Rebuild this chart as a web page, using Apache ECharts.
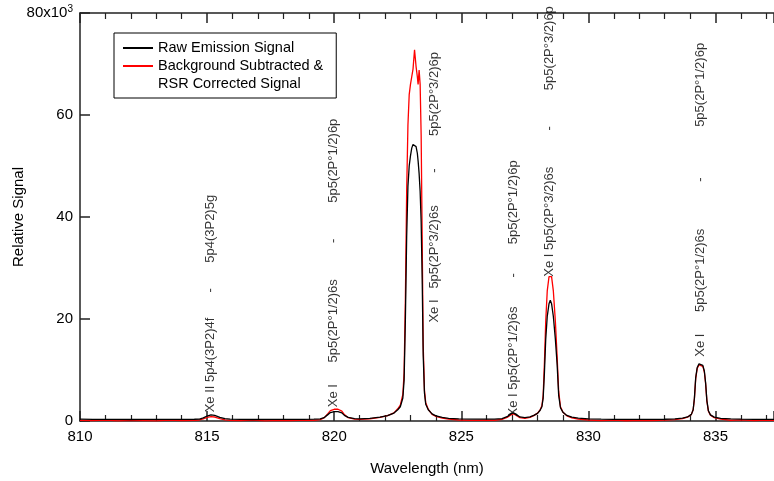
<!DOCTYPE html>
<html>
<head>
<meta charset="utf-8">
<title>Xe emission spectrum</title>
<script src="https://cdn.jsdelivr.net/npm/echarts@6/dist/echarts.min.js"></script>
<style>
  html, body { margin: 0; padding: 0; background: #fff; }
  #chart { width: 774px; height: 481px; }
</style>
</head>
<body>
<div id="chart"></div>
<script>
// Wavelength samples (nm), denser across the emission lines
const wavelength = [
  810.0, 810.5, 811.0, 811.5, 812.0, 812.5, 813.0, 813.5, 814.0, 814.5,
  814.7, 814.85, 815.0, 815.15, 815.3, 815.5, 815.7, 815.9,
  816.3, 816.8, 817.3, 817.8, 818.3, 818.8, 819.2, 819.45,
  819.6, 819.75, 819.85, 820.0, 820.15, 820.3, 820.4, 820.55, 820.8,
  821.0, 821.4, 821.8, 822.1, 822.35, 822.5, 822.6, 822.7, 822.75, 822.8,
  822.85, 822.9, 822.95, 823.0, 823.05, 823.1, 823.16, 823.22, 823.27, 823.3,
  823.34, 823.38, 823.42, 823.46, 823.5, 823.55, 823.6, 823.7, 823.85, 824.0,
  824.25, 824.5, 824.9, 825.4, 825.9, 826.3, 826.6, 826.8, 826.95, 827.05,
  827.15, 827.3, 827.5, 827.7, 827.85, 828.0, 828.1, 828.17, 828.22, 828.27,
  828.32, 828.38, 828.45, 828.5, 828.55, 828.62, 828.7, 828.77, 828.83, 828.9,
  829.0, 829.15, 829.35, 829.6, 830.0, 830.5, 831.0, 831.5, 832.0, 832.5,
  833.0, 833.4, 833.7, 833.9, 834.05, 834.12, 834.17, 834.22, 834.28, 834.35,
  834.42, 834.5, 834.56, 834.61, 834.66, 834.72, 834.8, 834.95, 835.2, 835.6,
  836.0, 836.5, 837.0, 837.5
];

// Raw emission signal (counts)
const rawSignal = [
  350, 320, 300, 310, 290, 300, 310, 300, 320, 340,
  380, 600, 980, 1200, 1100, 700, 450, 350,
  300, 290, 300, 300, 310, 320, 350, 420,
  650, 1250, 1650, 1850, 1850, 1600, 1100, 700, 480,
  430, 520, 750, 1050, 1550, 2200, 2800, 4500, 8000, 20000,
  36000, 46000, 50000, 52000, 53500, 54200, 54500, 53800, 52500, 51000,
  48500, 45000, 39000, 28000, 13000, 5500, 3300, 2200, 1400, 1000,
  700, 520, 420, 380, 360, 380, 480, 850, 1400, 1600,
  1350, 800, 650, 800, 1100, 1500, 2100, 2800, 4500, 9500,
  16000, 20500, 23000, 23700, 23000, 20500, 16000, 11000, 5000, 2600,
  1700, 1100, 750, 550, 420, 360, 330, 320, 310, 320,
  340, 400, 550, 800, 1300, 2200, 4500, 8500, 10500, 11200,
  11300, 10900, 9800, 7500, 4000, 2000, 1200, 750, 500, 400,
  350, 330, 320, 310
];

// Background subtracted & RSR corrected signal (counts)
const correctedSignal = [
  120, 60, 180, 40, 150, 90, 30, 170, 80, 150,
  200, 420, 700, 850, 780, 450, 220, 130,
  60, 160, 40, 140, 70, 180, 150, 260,
  600, 1450, 2050, 2300, 2300, 1950, 1250, 650, 350,
  300, 400, 700, 1050, 1600, 2400, 3100, 5200, 9500, 24000,
  45000, 58000, 64000, 66000, 67500, 69000, 72800, 69500, 67500, 66000,
  68800, 66000, 56000, 36000, 15000, 6000, 3600, 2300, 1300, 900,
  550, 350, 200, 120, 180, 150, 300, 700, 1200, 1400,
  1150, 650, 500, 700, 1050, 1550, 2200, 3000, 5000, 11500,
  19500, 25500, 28300, 28100, 28300, 25500, 19500, 12500, 5800, 2800,
  1700, 1000, 600, 350, 200, 90, 160, 50, 140, 70,
  170, 250, 450, 750, 1300, 2200, 4400, 8300, 10300, 11000,
  11100, 10700, 9600, 7300, 3900, 1900, 1150, 650, 350, 150,
  220, 60, 170, 80
];

// Line identifications: position (nm), label foot (counts), text
const lineWavelength = [815.15, 820.0, 823.98, 827.05, 828.5, 834.41];
const lineLabelFoot = [1600, 2600, 19200, 800, 28200, 12500];
const lineLabelText = [
  'Xe II 5p4(3P2)4f       -       5p4(3P2)5g',
  'Xe I      5p5(2P\u00b01/2)6s          -          5p5(2P\u00b01/2)6p',
  'Xe I   5p5(2P\u00b03/2)6s         -         5p5(2P\u00b03/2)6p',
  'Xe I 5p5(2P\u00b01/2)6s        -        5p5(2P\u00b01/2)6p',
  'Xe I 5p5(2P\u00b03/2)6s          -          5p5(2P\u00b03/2)6p',
  'Xe I      5p5(2P\u00b01/2)6s             -              5p5(2P\u00b01/2)6p'
];

const xTicks = [810, 815, 820, 825, 830, 835];
const yTicks = [0, 20000, 40000, 60000, 80000];

const rawName = 'Raw Emission Signal';
const corrName = 'Background Subtracted &\nRSR Corrected Signal';
const FONT = 'Liberation Sans, Arial, sans-serif';

const pairs = (xs, ys) => xs.map((x, i) => [x, ys[i]]);

const chart = echarts.init(document.getElementById('chart'), null, { renderer: 'canvas' });

const axisLineStyle = { color: '#222', width: 1.5 };

chart.setOption({
  animation: false,
  backgroundColor: '#fff',
  textStyle: { fontFamily: FONT },
  grid: { left: 80, right: 0, top: 13, bottom: 60, containLabel: false, outerBoundsMode: 'none' },
  legend: {
    orient: 'vertical',
    left: 114,
    top: 33,
    padding: [6, 13, 5, 8],
    itemGap: -18,
    itemWidth: 30,
    itemHeight: 14,
    borderColor: '#000',
    borderWidth: 1,
    itemStyle: { opacity: 0 },
    textStyle: { fontSize: 14.5, color: '#000', fontFamily: FONT, lineHeight: 18 },
    // the two-line entry gets a blank first line so its icon sits on the first text line
    formatter: name => (name === corrName ? ' \n' + name : name),
    data: [{ name: rawName }, { name: corrName }]
  },
  xAxis: [
    {
      type: 'value',
      min: 810,
      max: 837.3,
      interval: 5,
      name: 'Wavelength (nm)',
      nameLocation: 'middle',
      nameGap: 40,
      nameMoveOverlap: false,
      nameTextStyle: { fontSize: 15, color: '#000', fontFamily: FONT },
      axisLine: { show: true, onZero: false, lineStyle: axisLineStyle },
      axisTick: { show: true, inside: true, length: 10, lineStyle: axisLineStyle },
      minorTick: { show: true, splitNumber: 5, length: 6, lineStyle: { color: '#222', width: 1.2 } },
      axisLabel: {
        fontSize: 15, color: '#000', margin: 8, fontFamily: FONT,
        customValues: xTicks,
        formatter: v => String(v)
      },
      splitLine: { show: false }
    },
    {
      type: 'value',
      position: 'top',
      min: 810,
      max: 837.3,
      interval: 5,
      axisLine: { show: true, onZero: false, lineStyle: axisLineStyle },
      axisTick: { show: true, inside: true, length: 10, lineStyle: axisLineStyle },
      minorTick: { show: true, splitNumber: 5, length: 6, lineStyle: { color: '#222', width: 1.2 } },
      axisLabel: { show: false },
      splitLine: { show: false }
    }
  ],
  yAxis: {
    type: 'value',
    min: 0,
    max: 80000,
    interval: 20000,
    name: 'Relative Signal',
    nameLocation: 'middle',
    nameGap: 54,
    nameMoveOverlap: false,
    nameTextStyle: { fontSize: 15, color: '#000', fontFamily: FONT },
    axisLine: { show: true, onZero: false, lineStyle: axisLineStyle },
    axisTick: { show: true, inside: true, length: 10, lineStyle: axisLineStyle },
    axisLabel: {
      fontSize: 15, color: '#000', margin: 7, fontFamily: FONT,
      formatter: v => (v === yTicks[yTicks.length - 1] ? '{a|' + (v / 1000) + 'x10}{s|3}' : String(v / 1000)),
      rich: {
        a: { fontSize: 15, color: '#000', fontFamily: FONT },
        s: { fontSize: 10, color: '#000', fontFamily: FONT, verticalAlign: 'top', padding: [0, 0, 8, 0] }
      }
    },
    splitLine: { show: false }
  },
  series: [
    {
      name: corrName,
      type: 'line',
      data: pairs(wavelength, correctedSignal),
      symbol: 'none',
      lineStyle: { color: '#ff0000', width: 1.3 },
      itemStyle: { color: '#ff0000' },
      z: 2
    },
    {
      name: rawName,
      type: 'line',
      data: pairs(wavelength, rawSignal),
      symbol: 'none',
      lineStyle: { color: '#000', width: 1.3 },
      itemStyle: { color: '#000' },
      z: 3
    },
    {
      name: 'line labels',
      type: 'scatter',
      silent: true,
      symbolSize: 1,
      itemStyle: { color: 'rgba(0,0,0,0)' },
      z: 4,
      data: lineWavelength.map((w, i) => ({ value: [w, lineLabelFoot[i]], label: { formatter: lineLabelText[i] } })),
      label: {
        show: true,
        position: [0, 0],
        rotate: 90,
        align: 'left',
        verticalAlign: 'middle',
        fontSize: 13,
        color: '#000',
        fontFamily: FONT
      }
    }
  ]
});
</script>
</body>
</html>
